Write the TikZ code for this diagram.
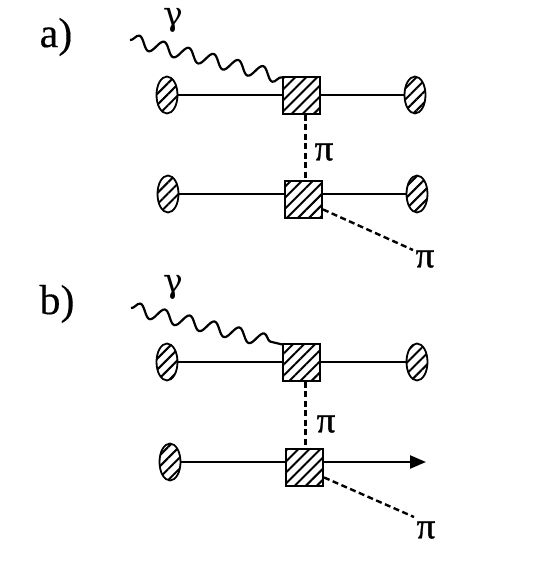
\documentclass[tikz,border=0pt]{standalone}
\usepackage{fontspec}
\setmainfont{Liberation Serif}[FakeBold=0.25]
\newfontfamily\grk{DejaVu Serif}
\newfontfamily\pifont{Liberation Serif}[FakeBold=0.9]
\usetikzlibrary{shapes.geometric,patterns.meta,decorations.pathmorphing,arrows.meta}
\tikzset{
  hatch/.style={pattern={Lines[angle=45,distance=7.8pt,line width=2pt]},pattern color=black},
  blob/.style={draw,ellipse,hatch,line width=1.8pt,inner sep=0pt,minimum width=21pt,minimum height=37pt},
  vertexbox/.style={draw,rectangle,hatch,line width=2pt,inner sep=0pt,minimum width=37pt,minimum height=37pt},
  prop/.style={line width=2.4pt},
  pion/.style={line width=2.4pt,dash pattern=on 6pt off 3.5pt},
  photon/.style={line width=2.2pt,line join=round,decorate,decoration={snake,segment length=25.5pt,amplitude=6.5pt}},
  lbl/.style={inner sep=0pt,font=\fontsize{42}{42}\selectfont},
  gammalbl/.style={inner sep=0pt,font=\grk\fontsize{33}{33}\selectfont},
  pilbl/.style={inner sep=0pt,font=\pifont\fontsize{37}{37}\selectfont}
}
\begin{document}
\begin{tikzpicture}[x=1pt,y=-1pt]
\useasboundingbox (0,0) rectangle (545,571);
\coordinate (pivot) at (305.5,0);
% panel a
\node[lbl] (la) at (56,37) {a)};
\node[gammalbl] (ga) at (173,20) {γ};
\coordinate (ga0) at (130,40);
\node[blob] (a1l) at (167,95) {};
\node[blob] (a1r) at (415,95) {};
\node[blob] (a2l) at (168,194) {};
\node[blob] (a2r) at (417,194) {};
\node[vertexbox] (a1) at (301.5,95) {};
\node[vertexbox] (a2) at (303.5,199.5) {};
\node[pilbl] (pa1) at (324,152) {π};
\node[pilbl] (pa2) at (425,259) {π};
\coordinate (pa2e) at (413,250);
\draw[prop] (a1l) -- (a1);
\draw[prop] (a1) -- (a1r);
\draw[prop] (a2l) -- (a2l-|a2.west);
\draw[prop] (a2r-|a2.east) -- (a2r);
\draw[pion] (a1.south-|pivot) -- (a2.north-|pivot);
\draw[pion] (a2.-27) -- (pa2e);
\draw[photon] (ga0) -- (a1.138);
% panel b
\node[lbl] (lb) at (57,304) {b)};
\node[gammalbl] (gb) at (173,287) {γ};
\coordinate (gb0) at (131,308);
\node[blob] (b1l) at (167,362) {};
\node[blob] (b1r) at (417,362) {};
\node[blob] (b2l) at (170,462) {};
\node[vertexbox] (b1) at (301.5,362) {};
\node[vertexbox] (b2) at (304.5,467.5) {};
\node[pilbl] (pb1) at (326,424) {π};
\node[pilbl] (pb2) at (426,530) {π};
\coordinate (pb2e) at (414,517);
\coordinate (b2e) at (426,462);
\draw[prop] (b1l) -- (b1);
\draw[prop] (b1) -- (b1r);
\draw[prop] (b2l) -- (b2l-|b2.west);
\draw[prop,-{Stealth[length=16pt,width=13pt,inset=0pt]}] (b2e-|b2.east) -- (b2e);
\draw[pion] (b1.south-|pivot) -- (b2.north-|pivot);
\draw[pion] (b2.-27) -- (pb2e);
\draw[photon] (gb0) -- (b1.138);
\end{tikzpicture}
\end{document}
